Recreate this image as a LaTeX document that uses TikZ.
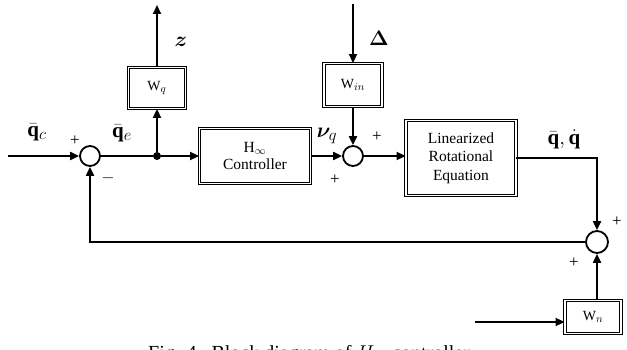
\documentclass[tikz,border=0pt]{standalone}
\usepackage{fix-cm}
\usepackage{fontspec}
\setmainfont{Liberation Serif}
\usepackage{bm}
\DeclareMathSizes{21}{21}{16.5}{12}
\DeclareMathSizes{14}{14}{11}{8}
\usetikzlibrary{arrows.meta}
\tikzset{
  blk/.style={draw, line width=0.9pt, double, double distance=1.5pt, fill=white, align=center, inner sep=1pt},
  sumnode/.style={draw, circle, line width=1.8pt, minimum size=20pt, inner sep=0pt},
  sig/.style={line width=2pt, -{Triangle[length=9pt,width=8pt]}},
  wire/.style={line width=2pt},
  lbl/.style={font=\fontsize{21}{23}\selectfont, inner sep=0pt},
  sgn/.style={font=\fontsize{17}{19}\selectfont, inner sep=0pt},
  btxt/.style={font=\fontsize{15.5}{18.5}\selectfont},
  wtxt/.style={font=\fontsize{14}{16}\selectfont}
}
\begin{document}
\begin{tikzpicture}[x=1pt,y=-1pt]
\useasboundingbox (0,0) rectangle (627,350);
% nodes
\node[sumnode] (s1) at (90,156) {};
\node[fill, circle, inner sep=0pt, minimum size=8pt] (dot) at (157,156) {};
\node[blk, btxt, minimum width=111pt, minimum height=55pt] (hinf) at (255,156) {H$_\infty$\\[-1pt]Controller};
\node[blk, wtxt, minimum width=57pt, minimum height=41pt] (wq) at (157,88) {W$_q$};
\node[sumnode] (s2) at (353,156) {};
\node[blk, wtxt, minimum width=58pt, minimum height=43pt] (win) at (353,85) {W$_{in}$};
\node[blk, btxt, minimum width=110pt, minimum height=75pt] (lre) at (461,158) {Linearized\\Rotational\\Equation};
\node[sumnode, minimum size=22pt] (s3) at (597,242) {};
\node[blk, wtxt, minimum width=56pt, minimum height=33pt] (wn) at (593,317) {W$_n$};
\coordinate (in1) at (8,156);
\coordinate (zout) at (157,5);
\coordinate (din) at (353,4);
\coordinate (nin) at (475,322);
% connectors
\draw[sig] (in1) -- (s1.west);
\draw[wire] (s1.east) -- (dot);
\draw[sig] (dot) -- (hinf.west);
\draw[sig] (dot) -- (wq.south);
\draw[sig] (wq.north) -- (zout);
\draw[sig] (hinf.east) -- (s2.west);
\draw[sig] (din) -- (win.north);
\draw[sig] (win.south) -- (s2.north);
\draw[sig] (s2.east) -- (lre.west |- s2);
\draw[sig] (lre.east) -| (s3.north);
\draw[sig] (s3.west) -| (s1.south);
\draw[sig] (wn.north -| s3) -- (s3.south);
\draw[sig] (nin) -- (wn.west |- nin);
% labels
\node[lbl] at (37,132) {$\bar{\mathbf{q}}_c$};
\node[lbl] at (122,133) {$\bar{\mathbf{q}}_e$};
\node[sgn] at (75,141) {+};
\node[sgn] at (108,178) {$-$};
\node[lbl] at (181,42) {$\bm{z}$};
\node[lbl] at (379,38) {$\bm{\Delta}$};
\node[lbl] at (327,136) {$\bm{\nu}_q$};
\node[sgn] at (335,180) {+};
\node[sgn] at (377,137) {+};
\node[lbl] at (564,139) {$\bar{\mathbf{q}},\dot{\mathbf{q}}$};
\node[sgn] at (617,222) {+};
\node[sgn] at (574,263) {+};
\node[anchor=base west, font=\fontsize{20}{24}\selectfont, inner sep=0pt] (cap) at (148,359) {Fig. 4.\ \ Block diagram of $H_\infty$ controller};
\end{tikzpicture}
\end{document}
